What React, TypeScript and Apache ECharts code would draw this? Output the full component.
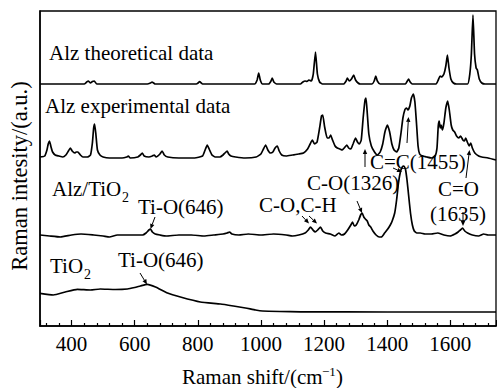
import React, { useEffect, useRef } from "react";
import * as echarts from "echarts";

const FONT = "'Liberation Serif', 'Times New Roman', Times, serif";

// x axis range (Raman shift, cm-1)
const xMin = 300;
const xMax = 1745;
const majorTickLabels = [400, 600, 800, 1000, 1200, 1400, 1600];

// [Raman shift, relative intensity]
const theoretical: number[][] = [
  [300, 0], [440, 0], [448, 2], [453, 3], [460, 1], [466, 2.5], [472, 3], [480, 0],
  [640, 0], [650, 1], [655, 2], [660, 1], [665, 0],
  [795, 0], [801, 1], [806, 2.5], [811, 1], [815, 0],
  [980, 0], [988, 4], [993, 11], [998, 4], [1005, 0],
  [1025, 0], [1032, 3], [1036, 6], [1041, 2], [1050, 0],
  [1125, 0], [1133, 2], [1140, 3], [1146, 2.5], [1152, 4], [1160, 3], [1166, 10], [1173, 32], [1179, 10], [1186, 2], [1195, 0],
  [1262, 0], [1270, 3], [1274, 6], [1280, 3], [1287, 5], [1294, 9], [1300, 4], [1308, 1], [1315, 0],
  [1352, 0], [1359, 3], [1364, 8], [1369, 3], [1378, 0],
  [1458, 0], [1464, 3], [1468, 5], [1473, 2], [1480, 0],
  [1555, 0], [1562, 4], [1568, 8], [1573, 7], [1580, 10], [1586, 18], [1591, 29], [1596, 16], [1602, 5], [1610, 1], [1620, 0],
  [1655, 0], [1662, 10], [1667, 30], [1672, 69], [1677, 30], [1682, 16], [1686, 14], [1692, 5], [1700, 1], [1710, 0], [1745, 0],
];

const experimental: number[][] = [
  [300, 1], [315, 2], [322, 8], [326, 14], [330, 17], [335, 11], [340, 6], [348, 3], [360, 2], [372, 1],
  [382, 3], [390, 7], [396, 10], [402, 7], [410, 5], [415, 6], [420, 6], [428, 3], [436, 1], [450, 1],
  [460, 3], [466, 15], [470, 30], [473, 34], [477, 24], [482, 8], [490, 3], [500, 1], [520, 0], [560, 0],
  [575, 1], [580, 2], [586, 0], [610, 1], [618, 3], [624, 5], [630, 2], [645, 1], [656, 2], [662, 3],
  [668, 1], [680, 4], [687, 7], [694, 3], [705, 1], [740, 0], [790, 0], [815, 2], [822, 7], [830, 13],
  [836, 9], [845, 3], [855, 1], [870, 1], [880, 3], [886, 5], [893, 7], [898, 4], [905, 2], [920, 1],
  [950, 0], [985, 1], [1000, 4], [1008, 9], [1015, 13], [1022, 8], [1030, 5], [1038, 6], [1045, 10], [1052, 12],
  [1058, 7], [1066, 3], [1080, 2], [1100, 3], [1120, 4], [1135, 5], [1148, 9], [1156, 14], [1163, 18], [1170, 14],
  [1178, 16], [1186, 30], [1192, 42], [1196, 43], [1202, 31], [1210, 20], [1216, 20], [1221, 23], [1227, 18], [1235, 12],
  [1242, 10], [1250, 9], [1258, 8], [1264, 10], [1272, 13], [1278, 10], [1285, 9], [1292, 14], [1300, 20], [1306, 16],
  [1312, 14], [1318, 18], [1324, 40], [1330, 58], [1333, 60], [1337, 45], [1342, 24], [1350, 12], [1360, 6], [1369, 3],
  [1378, 6], [1386, 14], [1393, 26], [1401, 33], [1408, 26], [1415, 14], [1422, 8], [1430, 6], [1437, 10], [1444, 25],
  [1450, 40], [1456, 48], [1461, 50], [1466, 48], [1472, 52], [1477, 60], [1483, 64], [1488, 56], [1493, 35], [1498, 12],
  [1503, 4], [1512, 2], [1525, 1], [1540, 0], [1552, 2], [1558, 10], [1562, 32], [1565, 37], [1568, 30], [1571, 33],
  [1575, 28], [1580, 35], [1586, 50], [1592, 57], [1597, 48], [1603, 33], [1608, 28], [1614, 26], [1620, 22], [1627, 20],
  [1633, 22], [1640, 18], [1645, 17], [1649, 20], [1654, 16], [1660, 12], [1665, 15], [1670, 10], [1678, 5], [1690, 2],
  [1700, 1], [1720, 0], [1745, -2],
];

const alzTio2: number[][] = [
  [300, 0], [330, -1], [364, -2], [400, 0], [430, 1], [470, 0], [500, -1], [520, -2], [545, 0], [600, 0],
  [625, 0], [636, 2], [645, 5], [650, 6], [656, 3], [665, 1], [680, 0], [700, -1], [740, 0], [780, 0],
  [820, -1], [850, 0], [880, 1], [893, 2], [901, 3], [908, 1], [930, 0], [960, 1], [1000, 0], [1040, 1],
  [1080, 0], [1100, -1], [1120, 0], [1140, 2], [1150, 5], [1157, 8], [1165, 5], [1172, 3], [1180, 5], [1189, 8],
  [1196, 4], [1205, 2], [1220, 1], [1235, -1], [1247, 2], [1255, 0], [1265, 1], [1275, 5], [1285, 10], [1290, 13],
  [1296, 9], [1302, 10], [1310, 15], [1316, 20], [1321, 22], [1326, 18], [1331, 16], [1337, 14], [1342, 10], [1348, 8],
  [1355, 4], [1365, 0], [1375, -2], [1382, -2], [1392, 2], [1402, 6], [1410, 10], [1416, 14], [1424, 22], [1430, 35],
  [1436, 52], [1442, 63], [1448, 68], [1453, 69], [1458, 66], [1463, 55], [1468, 40], [1474, 22], [1480, 10], [1486, 4],
  [1494, 2], [1505, 2], [1520, 1], [1540, 1], [1560, 2], [1580, 0], [1600, -1], [1615, 1], [1625, 3], [1632, 5],
  [1639, 7], [1646, 4], [1655, 2], [1670, 0], [1690, -1], [1706, 1], [1720, 0], [1745, 0],
];

const tio2: number[][] = [
  [300, 18.7], [342, 17], [380, 20], [418, 22.7], [460, 22], [491, 23], [539, 22.5], [577, 23], [600, 24.5],
  [618, 26], [640, 27.7], [666, 25], [704, 19], [745, 15], [808, 10], [872, 8], [913, 6], [951, 4],
  [983, 2], [1005, 1], [1060, 0.5], [1126, 0.2], [1400, 0], [1745, 0],
];

// vertical stacking of the traces
const traceOffsets = [242, 168, 91, 14];

function arrow(x1: number, y1: number, x2: number, y2: number) {
  const dx = x2 - x1, dy = y2 - y1;
  const len = Math.hypot(dx, dy);
  const ux = dx / len, uy = dy / len;
  const hl = 5, hw = 2.2;
  const bx = x2 - ux * hl, by = y2 - uy * hl;
  return [
    { type: "line", shape: { x1, y1, x2: bx, y2: by }, style: { stroke: "#000", lineWidth: 1 }, z: 100 },
    {
      type: "polygon",
      shape: { points: [[x2, y2], [bx - uy * hw, by + ux * hw], [bx + uy * hw, by - ux * hw]] },
      style: { fill: "#000" },
      z: 100,
    },
  ];
}

function txt(text: string, x: number, y: number, size = 21) {
  return {
    type: "text",
    z: 100,
    style: {
      text,
      x,
      y,
      fontSize: size,
      fontFamily: FONT,
      fill: "#000",
      align: "left",
      verticalAlign: "middle",
    },
  };
}

export default function App() {
  const ref = useRef<HTMLDivElement>(null);
  useEffect(() => {
    if (!ref.current) return;
    const chart = echarts.init(ref.current, null, { renderer: "svg" });
    const traces = [theoretical, experimental, alzTio2, tio2];
    const series = traces.map((tr, i) => ({
      type: "line",
      data: tr.map(([x, y]) => [x, y + traceOffsets[i]]),
      showSymbol: false,
      symbol: "none",
      smooth: 0.15,
      lineStyle: { color: "#000", width: 1.7 },
      silent: true,
    }));

    const graphic: any[] = [
      txt("Alz theoretical data", 49, 53),
      txt("Alz experimental data", 45, 106),
      txt("Alz/TiO", 52, 189),
      txt("2", 122, 197, 14),
      txt("Ti-O(646)", 138, 207),
      txt("C-O,C-H", 259, 205),
      txt("C-O(1326)", 307, 183),
      txt("C=C(1455)", 370, 162),
      txt("C=O", 438, 189),
      txt("(1635)", 430, 214),
      txt("TiO", 50, 266),
      txt("2", 84, 274, 14),
      txt("Ti-O(646)", 118, 260),
      txt("Raman shift/(cm", 182, 377),
      txt("\u22121", 322, 371, 13),
      txt(")", 336, 377),
      {
        type: "text",
        z: 100,
        x: 19,
        y: 176,
        rotation: Math.PI / 2,
        style: {
          text: "Raman intesity/(a.u.)",
          x: 0,
          y: 0,
          fontSize: 22.5,
          fontFamily: FONT,
          fill: "#000",
          align: "center",
          verticalAlign: "middle",
        },
      },
      ...arrow(155, 217, 150.5, 229),
      ...arrow(140, 273, 147, 284.5),
      ...arrow(302, 216, 309, 223.5),
      ...arrow(309, 216, 317, 223.5),
      ...arrow(357, 201, 362, 213),
      ...arrow(365, 167, 365, 149),
      ...arrow(407, 143, 408.5, 117),
      ...arrow(393, 168, 402, 172),
      ...arrow(466, 178, 469.5, 150),
      ...arrow(463, 212, 463, 226),
    ];

    chart.setOption({
      animation: false,
      backgroundColor: "#fff",
      grid: {
        left: 40,
        right: 1,
        top: 11,
        bottom: 62,
        show: true,
        borderColor: "#000",
        borderWidth: 1.3,
        backgroundColor: "transparent",
      },
      xAxis: {
        type: "value",
        position: "bottom",
        min: xMin,
        max: xMax,
        splitNumber: 7,
        axisLine: { show: true, lineStyle: { color: "#000", width: 1.5 } },
        axisTick: { show: true, inside: true, length: 6, lineStyle: { color: "#000", width: 1.2 } },
        minorTick: { show: true, splitNumber: 5, length: 3, lineStyle: { color: "#000", width: 1.2 } },
        axisLabel: {
          show: true,
          margin: 7,
          color: "#000",
          fontSize: 21,
          fontFamily: FONT,
          showMinLabel: false,
          showMaxLabel: false,
          formatter: (v: number) => (majorTickLabels.includes(Number(v)) ? String(v) : ""),
        },
        splitLine: { show: false },
      },
      yAxis: {
        type: "value",
        min: 0,
        max: 315,
        axisLine: { show: true, lineStyle: { color: "#000", width: 1.5 } },
        axisTick: { show: false },
        axisLabel: { show: false },
        splitLine: { show: false },
      },
      series,
      graphic,
    });
    return () => chart.dispose();
  }, []);
  return (
    <div
      ref={ref}
      style={{ position: "fixed", left: 0, top: 0, width: 497, height: 388, background: "#fff" }}
    />
  );
}
